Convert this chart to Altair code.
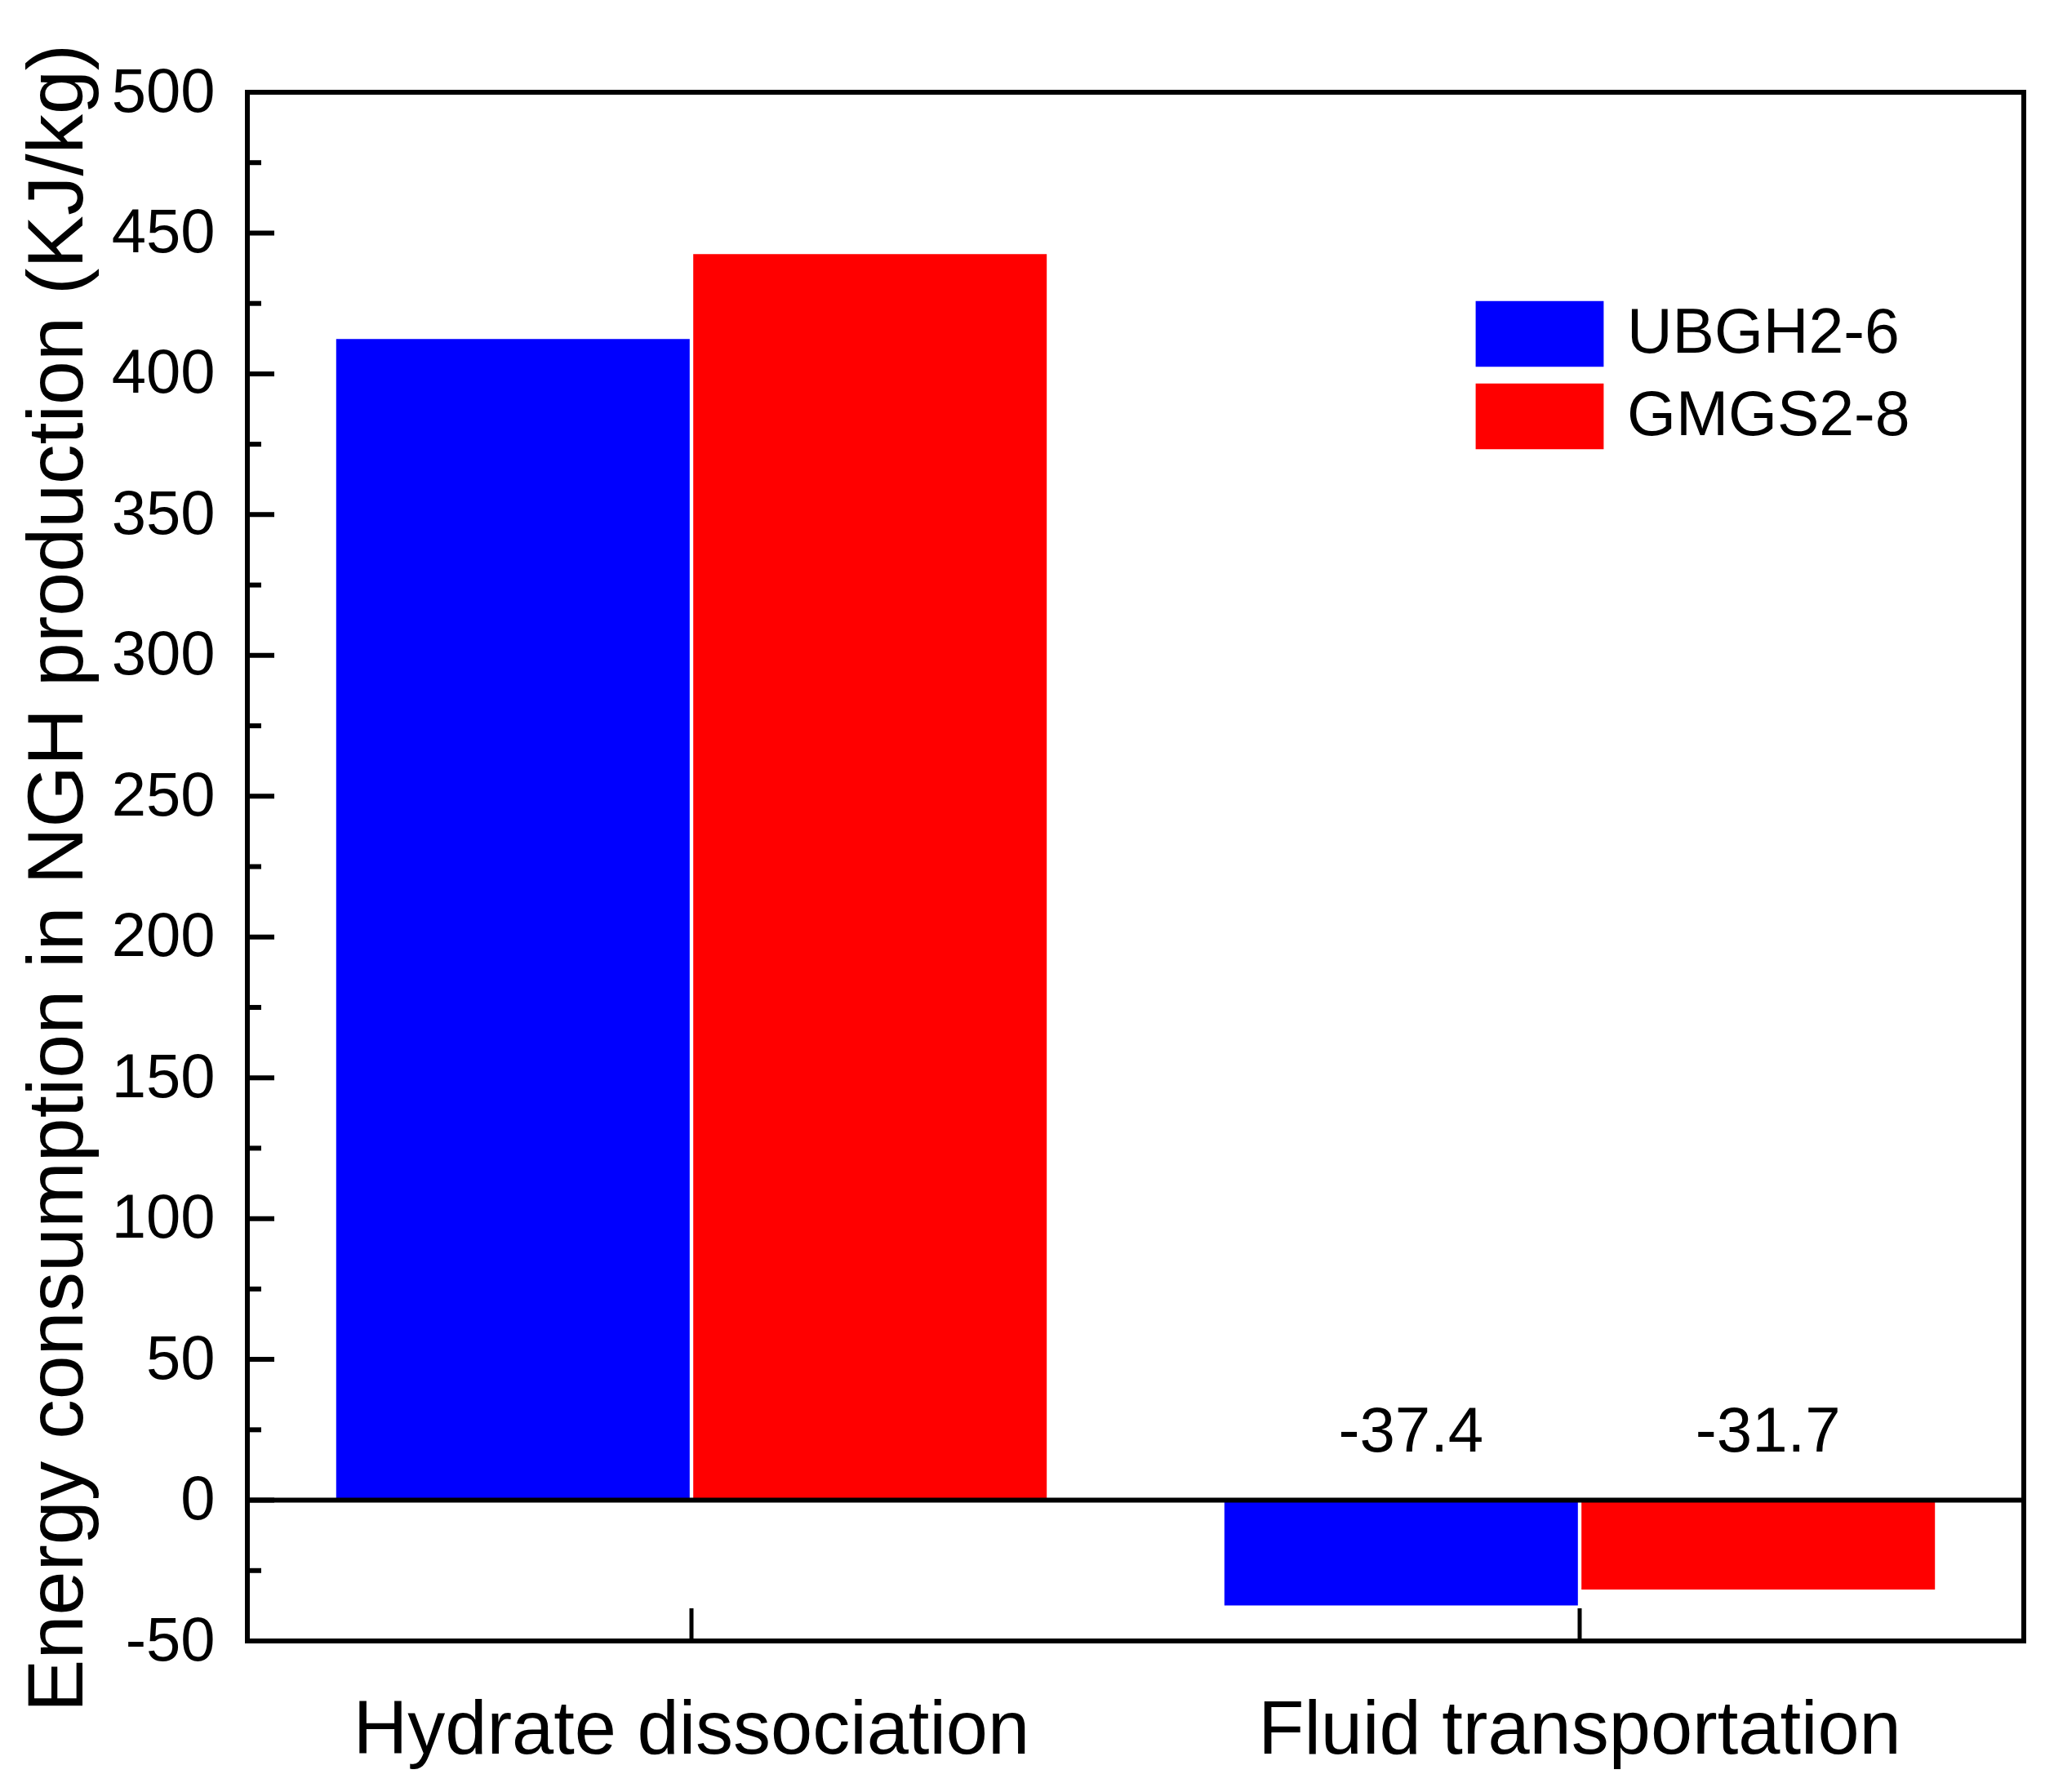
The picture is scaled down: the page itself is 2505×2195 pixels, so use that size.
import altair as alt
import pandas as pd

# ---- data ----
categories = ["Hydrate dissociation", "Fluid transportation"]
series = ["UBGH2-6", "GMGS2-8"]
ubgh_values = [412.4, -37.4]
gmgs_values = [442.5, -31.7]
bar_colors = ["#0000FF", "#FF0000"]
labelled_category = "Fluid transportation"
y_major_ticks = [-50, 0, 50, 100, 150, 200, 250, 300, 350, 400, 450, 500]
y_minor_ticks = [-25, 25, 75, 125, 175, 225, 275, 325, 375, 425, 475]
y_title = "Energy consumption in NGH production (KJ/kg)"

rows = []
for i, c in enumerate(categories):
    rows.append({"category": c, "series": series[0], "value": ubgh_values[i]})
    rows.append({"category": c, "series": series[1], "value": gmgs_values[i]})
df = pd.DataFrame(rows)
df["label"] = df["value"].map(lambda v: f"{v:.1f}")
df_lab = df[df["category"] == labelled_category]

W, H = 2176, 1897
FONT = "Liberation Sans"

x_scale = alt.Scale(paddingInner=0.2, paddingOuter=0.1)
y_scale = alt.Scale(domain=[-50, 500], nice=False)
off_scale = alt.Scale(paddingInner=0.01)

bars = alt.Chart(df).mark_bar().encode(
    x=alt.X("category:N", sort=categories, scale=x_scale,
            axis=alt.Axis(title=None, labelAngle=0)),
    xOffset=alt.XOffset("series:N", sort=series, scale=off_scale),
    y=alt.Y("value:Q", scale=y_scale,
            axis=alt.Axis(values=y_major_ticks, title=y_title, titleY=962,
                          labelExpr="replace(datum.label, '\u2212', '-')")),
    color=alt.Color(
        "series:N", sort=series,
        scale=alt.Scale(domain=series, range=bar_colors),
        legend=alt.Legend(
            orient="none", legendX=1534, legendY=247, title=None,
            symbolType="M-1.6,-0.82H1.6V0.82H-1.6Z", symbolSize=9604,
            symbolStrokeWidth=0, symbolOpacity=1, labelFontSize=77,
            labelFont=FONT, labelColor="black", labelOffset=58,
            labelLimit=0, rowPadding=11, padding=0, offset=0,
        ),
    ),
)

zero_line = alt.Chart(pd.DataFrame({"value": [0]})).mark_rule(
    color="black", strokeWidth=6
).encode(y=alt.Y("value:Q", scale=y_scale))

major_ticks = alt.Chart(pd.DataFrame({"value": y_major_ticks})).mark_rule(
    color="black", strokeWidth=6
).encode(y=alt.Y("value:Q", scale=y_scale), x=alt.value(0), x2=alt.value(33))

minor_ticks = alt.Chart(pd.DataFrame({"value": y_minor_ticks})).mark_rule(
    color="black", strokeWidth=6
).encode(y=alt.Y("value:Q", scale=y_scale), x=alt.value(0), x2=alt.value(17))

x_ticks = alt.Chart(pd.DataFrame({"category": categories})).mark_rule(
    color="black", strokeWidth=5
).encode(
    x=alt.X("category:N", sort=categories, scale=x_scale),
    y=alt.value(H), y2=alt.value(H - 40),
)

labels = alt.Chart(df_lab).mark_text(
    fontSize=78, font=FONT, baseline="alphabetic", dy=-60, dx=12, color="black"
).encode(
    x=alt.X("category:N", sort=categories, scale=x_scale),
    xOffset=alt.XOffset("series:N", sort=series, scale=off_scale),
    y=alt.datum(0),
    text="label:N",
)

chart = alt.layer(bars, zero_line, major_ticks, minor_ticks, x_ticks, labels).properties(
    width=W, height=H,
    autosize=alt.AutoSizeParams(type="none"),
    padding={"left": 295, "top": 105, "right": 15, "bottom": 175},
    background="white",
).configure_view(
    stroke="black", strokeWidth=6
).configure_axis(
    domain=False, ticks=False, tickSize=0, grid=False, labelLimit=0,
    labelColor="black", labelFont=FONT, titleFont=FONT, titleColor="black",
    titleFontWeight="normal",
).configure_axisX(
    labelFontSize=92, labelPadding=64,
).configure_axisY(
    labelFontSize=76, labelPadding=40, titleFontSize=97, titlePadding=16,
)

chart.save("out.html", embed_options={"renderer": "svg", "actions": False})
